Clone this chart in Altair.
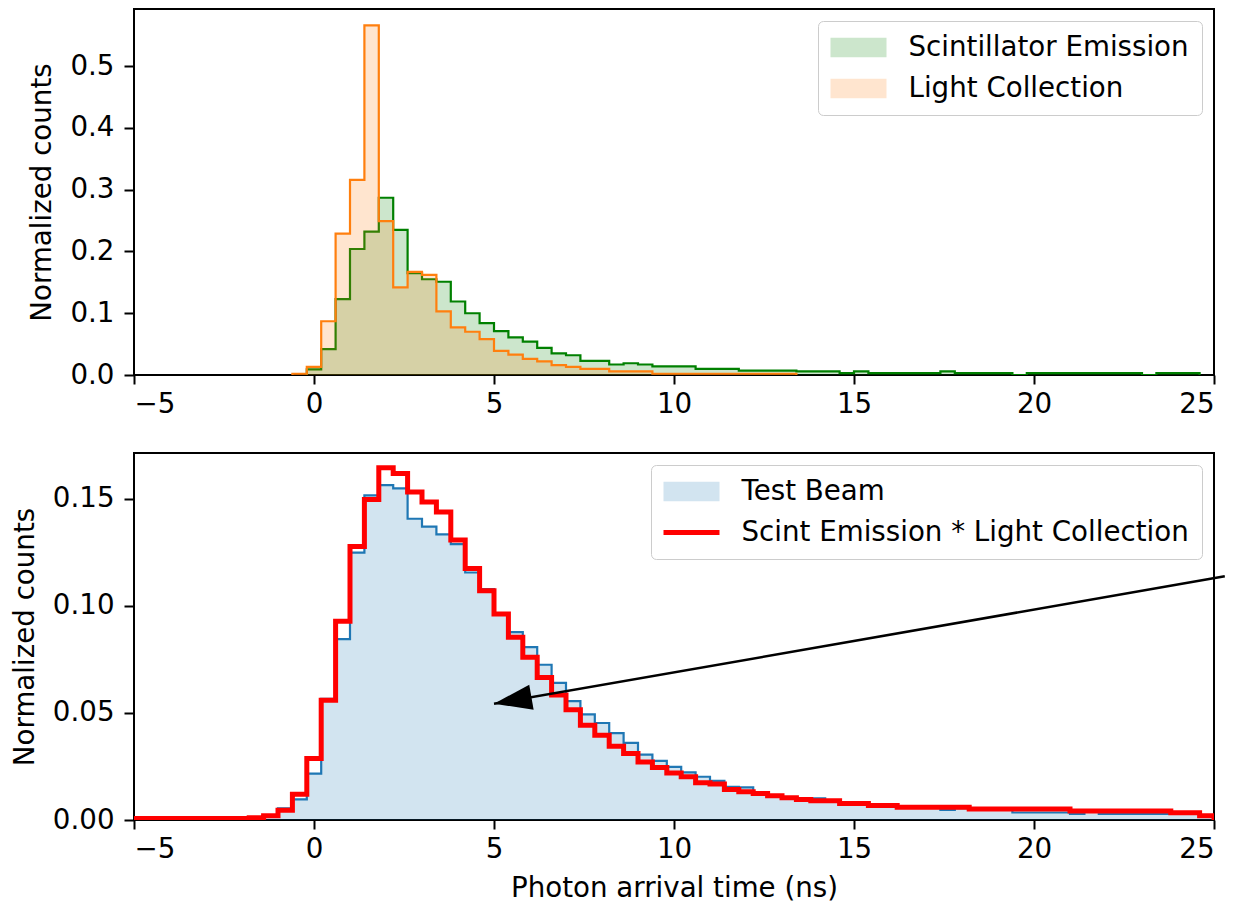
import math
import altair as alt
import pandas as pd

# ---------------- data ----------------
BIN_WIDTH = 0.4

# top panel: Scintillator Emission (green), first bin starts at -0.2
scint_start = -0.2
scint_emission = [
    0.009, 0.042, 0.123, 0.204, 0.232, 0.287, 0.235, 0.165, 0.155, 0.151,
    0.119, 0.100, 0.084, 0.071, 0.061, 0.054, 0.044, 0.035, 0.032, 0.023,
    0.023, 0.017, 0.019, 0.017, 0.014, 0.014, 0.014, 0.010, 0.010, 0.010,
    0.007, 0.007, 0.007, 0.007, 0.006, 0.006, 0.006, 0.003, 0.006, 0.003,
    0.003, 0.003, 0.003, 0.003, 0.006, 0.003, 0.003, 0.003, 0.003, 0.000,
    0.003, 0.003, 0.003, 0.003, 0.003, 0.003, 0.003, 0.003, 0.000, 0.003,
    0.003, 0.003,
]

# top panel: Light Collection (orange), first bin starts at -0.6
light_start = -0.6
light_collection = [
    0.002, 0.013, 0.087, 0.229, 0.316, 0.566, 0.249, 0.142, 0.167, 0.162,
    0.103, 0.077, 0.070, 0.058, 0.039, 0.033, 0.026, 0.022, 0.016, 0.013,
    0.010, 0.010, 0.006, 0.006, 0.006, 0.002, 0.002, 0.002, 0.002, 0.002,
    0.002, 0.002, 0.002, 0.002, 0.002,
]

# bottom panel: Test Beam (blue), first bin starts at -5
beam_start = -5.0
test_beam = [
    0.0004, 0.0004, 0.0004, 0.0004, 0.0004, 0.0004, 0.0004, 0.0004, 0.0008,
    0.0015, 0.0054, 0.0096, 0.0217, 0.0566, 0.0845, 0.1249, 0.1516, 0.1564, 0.1549,
    0.1407, 0.1370, 0.1334, 0.1288, 0.1156, 0.1078, 0.0960, 0.0877, 0.0807, 0.0725,
    0.0640, 0.0555, 0.0493, 0.0453, 0.0406, 0.0360, 0.0305, 0.0276, 0.0248, 0.0222,
    0.0202, 0.0183, 0.0155, 0.0152, 0.0124, 0.0113, 0.0104, 0.0100, 0.0101, 0.0090,
    0.0077, 0.0077, 0.0065, 0.0065,
    0.0059, 0.0059, 0.0059, 0.0047, 0.0055, 0.0055, 0.0055, 0.0055,
    0.0035, 0.0035, 0.0035, 0.0035, 0.0028, 0.0040, 0.0028, 0.0028, 0.0028, 0.0028,
    0.0028, 0.0033, 0.0033, 0.0016,
]

# bottom panel: Scint Emission * Light Collection (red), first bin starts at -5
conv_start = -5.0
convolution = [
    0.0007, 0.0007, 0.0007, 0.0007, 0.0007, 0.0007, 0.0007, 0.0007, 0.0010,
    0.0020, 0.0046, 0.0120, 0.0287, 0.0559, 0.0928, 0.1277, 0.1497, 0.1645, 0.1618,
    0.1532, 0.1485, 0.1438, 0.1308, 0.1175, 0.1071, 0.0962, 0.0853, 0.0760, 0.0665,
    0.0584, 0.0515, 0.0442, 0.0396, 0.0344, 0.0310, 0.0271, 0.0245, 0.0220, 0.0202,
    0.0174, 0.0168, 0.0143, 0.0132, 0.0124, 0.0113, 0.0104, 0.0096, 0.0090, 0.0090,
    0.0077, 0.0077, 0.0068, 0.0068,
    0.0059, 0.0059, 0.0059, 0.0059, 0.0059,
    0.0051, 0.0051, 0.0051, 0.0051, 0.0051, 0.0051, 0.0051,
    0.0042, 0.0042, 0.0042, 0.0042, 0.0042, 0.0042, 0.0042,
    0.0034, 0.0034, 0.0020,
]

series_top = ["Scintillator Emission", "Light Collection"]
series_bottom = ["Test Beam", "Scint Emission * Light Collection"]

x_ticks = [-5, 0, 5, 10, 15, 20, 25]
y_ticks_top = [0.0, 0.1, 0.2, 0.3, 0.4, 0.5]
y_ticks_bottom = [0.00, 0.05, 0.10, 0.15]

x_domain = [-5, 25]
y_domain_top = [0, 0.5926]
y_domain_bottom = [0, 0.1714]

# annotation arrow (data coordinates of the bottom panel)
arrow_tip = (5.0, 0.0543)
arrow_tail = (25.3, 0.1138)

# ---------------- styling ----------------
FONT = "DejaVu Sans"
FS = 27.7
W = 1080
H_TOP = 366
H_BOT = 367
GREEN = "#008000"
ORANGE = "#ff7f0e"
BLUE = "#1f77b4"
RED = "#ff0000"


def hist_frames(start, values, name):
    n = len(values)
    edges = [round(start + BIN_WIDTH * i, 6) for i in range(n + 1)]
    area = pd.DataFrame({
        "x": edges[:n] + [edges[n]],
        "y": values + [values[-1]],
        "series": name,
    })
    lx = [edges[0]] + edges[:n] + [edges[n], edges[n]]
    ly = [0.0] + values + [values[-1], 0.0]
    line = pd.DataFrame({"x": lx, "y": ly, "i": list(range(len(lx))), "series": name})
    return area, line


minus_expr = "replace(datum.label, '-', '\u2212')"
x_scale = alt.Scale(domain=x_domain, nice=False, zero=False)
x_axis_top = alt.Axis(values=x_ticks, title=None, labelExpr=minus_expr)
x_axis_bot = alt.Axis(values=x_ticks, title="Photon arrival time (ns)", labelExpr=minus_expr)
y_scale_top = alt.Scale(domain=y_domain_top, nice=False, zero=False)
y_scale_bot = alt.Scale(domain=y_domain_bottom, nice=False, zero=False)
y_axis_top = alt.Axis(values=y_ticks_top, format=".1f", title="Normalized counts")
y_axis_bot = alt.Axis(values=y_ticks_bottom, format=".2f", title="Normalized counts")


def area_layer(df, color, xa, ys, ya):
    return alt.Chart(df).mark_area(
        interpolate="step-after", color=color, opacity=0.2, clip=True
    ).encode(
        x=alt.X("x:Q", scale=x_scale, axis=xa),
        y=alt.Y("y:Q", scale=ys, axis=ya, stack=None),
    )


def line_layer(df, color, width, xa, ys, ya):
    return alt.Chart(df).mark_line(
        interpolate="step-after", color=color, strokeWidth=width, clip=True
    ).encode(
        x=alt.X("x:Q", scale=x_scale, axis=xa),
        y=alt.Y("y:Q", scale=ys, axis=ya),
        order=alt.Order("i:Q"),
    )


# legend swatches: 56 px wide, drawn with a nominal symbol size of 28 px
RECT_PATH = "M-1,-0.7H3V0.7H-1Z"
LINE_PATH = "M-1,-0.17H3V0.17H-1Z"


def legend_layer(names, colors, shapes):
    leg = alt.Legend(
        title=None, orient="top-right", offset=12, padding=12.5, rowPadding=13,
        labelOffset=50, labelFont=FONT, labelFontSize=FS, labelColor="black",
        labelLimit=800, fillColor="rgba(255,255,255,0.8)", strokeColor="#cccccc",
        cornerRadius=5, symbolSize=784, symbolStrokeWidth=0,
        symbolOpacity=1,
    )
    df = pd.DataFrame({"series": names})
    return alt.Chart(df).mark_point(filled=True, opacity=0).encode(
        color=alt.Color("series:N", scale=alt.Scale(domain=names, range=colors), legend=leg, sort=names),
        shape=alt.Shape("series:N", scale=alt.Scale(domain=names, range=shapes), legend=leg, sort=names),
    )


g_area, g_line = hist_frames(scint_start, scint_emission, series_top[0])
o_area, o_line = hist_frames(light_start, light_collection, series_top[1])
b_area, b_line = hist_frames(beam_start, test_beam, series_bottom[0])
_, r_line = hist_frames(conv_start, convolution, series_bottom[1])

top = alt.layer(
    area_layer(g_area, GREEN, x_axis_top, y_scale_top, y_axis_top),
    line_layer(g_line, GREEN, 2.2, x_axis_top, y_scale_top, y_axis_top),
    area_layer(o_area, ORANGE, x_axis_top, y_scale_top, y_axis_top),
    line_layer(o_line, ORANGE, 2.2, x_axis_top, y_scale_top, y_axis_top),
    legend_layer(series_top, ["#cce6cc", "#ffe5cf"], [RECT_PATH, RECT_PATH]),
).properties(width=W, height=H_TOP)

# arrow
px_per_x = W / (x_domain[1] - x_domain[0])
px_per_y = H_BOT / (y_domain_bottom[1] - y_domain_bottom[0])
dxp = (arrow_tip[0] - arrow_tail[0]) * px_per_x
dyp = -(arrow_tip[1] - arrow_tail[1]) * px_per_y
arrow_angle = math.degrees(math.atan2(dyp, dxp)) % 360

arrow_df = pd.DataFrame({
    "x": [arrow_tip[0]], "y": [arrow_tip[1]],
    "x2": [arrow_tail[0]], "y2": [arrow_tail[1]],
})
arrow_line = alt.Chart(arrow_df).mark_rule(color="black", strokeWidth=2.5).encode(
    x=alt.X("x:Q", scale=x_scale, axis=x_axis_bot),
    y=alt.Y("y:Q", scale=y_scale_bot, axis=y_axis_bot),
    x2="x2:Q", y2="y2:Q",
)
arrow_head = alt.Chart(arrow_df).mark_point(
    shape="M0,0L-2,-0.67L-2,0.67Z", size=1444, filled=True, color="black",
    opacity=1, angle=arrow_angle,
).encode(
    x=alt.X("x:Q", scale=x_scale, axis=x_axis_bot),
    y=alt.Y("y:Q", scale=y_scale_bot, axis=y_axis_bot),
)

bottom = alt.layer(
    area_layer(b_area, BLUE, x_axis_bot, y_scale_bot, y_axis_bot),
    line_layer(b_line, BLUE, 2.2, x_axis_bot, y_scale_bot, y_axis_bot),
    line_layer(r_line, RED, 5, x_axis_bot, y_scale_bot, y_axis_bot),
    arrow_line,
    arrow_head,
    legend_layer(series_bottom, ["#d2e4f0", RED], [RECT_PATH, LINE_PATH]),
).properties(width=W, height=H_BOT)

chart = alt.vconcat(top, bottom, spacing=32).resolve_scale(
    x="independent", y="independent", color="independent", shape="independent"
).properties(
    padding={"left": 2, "top": 0, "right": 0, "bottom": 0}
).configure_view(
    stroke="black", strokeWidth=2
).configure_axis(
    domain=False, grid=False, ticks=True, tickColor="black", tickWidth=2, tickSize=10,
    labelFont=FONT, labelFontSize=FS, labelColor="black",
    titleFont=FONT, titleFontSize=FS, titleFontWeight="normal", titleColor="black",
).configure_axisX(
    tickSize=9, labelPadding=6.5, titlePadding=11.5
).configure_axisY(
    labelPadding=10, titlePadding=13
)

chart.save("out.html", embed_options={"renderer": "svg", "actions": False})
